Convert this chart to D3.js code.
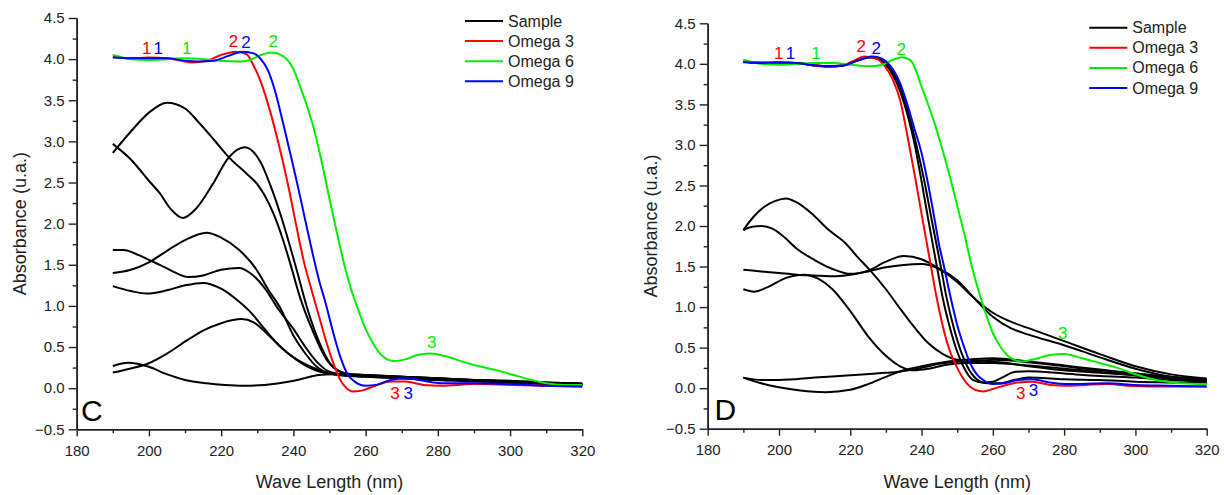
<!DOCTYPE html>
<html>
<head>
<meta charset="utf-8">
<script src="https://cdn.jsdelivr.net/npm/d3@7"></script>
<style>
  body { margin: 0; background: #fff; }
  svg { display: block; font-family: "Liberation Sans", Arial, sans-serif; }
</style>
</head>
<body>
<div id="chart"></div>
<script>
// series names + colours
const seriesNames = ["Sample", "Omega 3", "Omega 6", "Omega 9"];
const seriesColors = ["#000000", "#ff0000", "#00ee00", "#0000ff"];

// axis ticks
const waveTicks = [180, 200, 220, 240, 260, 280, 300, 320];
const waveMinor = [190, 210, 230, 250, 270, 290, 310];
const absTicks = [-0.5, 0, 0.5, 1, 1.5, 2, 2.5, 3, 3.5, 4, 4.5];
const absMinor = [-0.25, 0.25, 0.75, 1.25, 1.75, 2.25, 2.75, 3.25, 3.75, 4.25];

// ---- panel C : [wavelength nm, absorbance] ----
const cSample1 = [[190,2.86],[195,3.12],[200,3.35],[205,3.47],[210,3.40],[214,3.22],[218,3.02],[222.5,2.79],[227,2.61],[230,2.48],[234.4,2.13],[237,1.82],[239.1,1.52],[241.8,1.11],[245.5,0.68],[249,0.36],[252,0.22],[256,0.17],[260,0.16],[270,0.14],[280,0.12],[290,0.10],[300,0.08],[310,0.07],[320,0.05]];
const cSample2 = [[190,2.97],[195,2.78],[200,2.52],[203,2.37],[206,2.18],[209.4,2.07],[213,2.18],[217.8,2.49],[222,2.80],[226.5,2.93],[231,2.74],[233.5,2.48],[236.3,2.13],[240.9,1.44],[243.7,0.99],[246.5,0.63],[250.2,0.30],[253,0.20],[256,0.16],[260,0.15],[270,0.13],[280,0.11],[290,0.09],[300,0.08],[310,0.06],[320,0.05]];
const cSample3 = [[190,1.40],[195,1.44],[200,1.53],[205,1.67],[210,1.80],[216,1.89],[220,1.83],[225,1.68],[229.8,1.44],[233,1.20],[236.3,0.98],[240,0.64],[243,0.44],[246.5,0.26],[250,0.18],[255,0.16],[260,0.15],[270,0.14],[280,0.12],[290,0.10],[300,0.09],[310,0.07],[320,0.06]];
const cSample4 = [[190,1.68],[193,1.68],[197,1.62],[200,1.56],[203,1.50],[207,1.41],[211,1.35],[215,1.37],[220,1.44],[225,1.46],[228,1.40],[232,1.22],[236,0.95],[240,0.72],[243,0.52],[246.5,0.32],[250,0.20],[255,0.16],[260,0.15],[270,0.13],[280,0.11],[290,0.10],[300,0.08],[310,0.06],[320,0.05]];
const cSample5 = [[190,1.24],[195,1.18],[199.4,1.15],[205,1.19],[210,1.25],[215,1.28],[220,1.21],[225,1.05],[228,0.93],[232,0.72],[236,0.52],[240.9,0.35],[246.5,0.23],[250,0.18],[255,0.15],[260,0.14],[270,0.12],[280,0.10],[290,0.09],[300,0.07],[310,0.06],[320,0.04]];
const cSample6 = [[190,0.19],[195,0.24],[199.8,0.30],[205,0.42],[210.5,0.58],[215,0.70],[220,0.79],[225.7,0.84],[229,0.80],[233,0.65],[237,0.48],[241,0.34],[244,0.26],[247.4,0.20],[251,0.17],[255,0.15],[260,0.14],[270,0.12],[280,0.10],[290,0.08],[300,0.07],[310,0.05],[320,0.04]];
const cSample7 = [[190,0.27],[194.3,0.31],[200,0.26],[204.9,0.17],[210,0.10],[216,0.06],[221,0.04],[226,0.03],[232,0.04],[239,0.08],[243,0.12],[247,0.16],[251,0.17],[255,0.17],[260,0.16],[270,0.14],[280,0.12],[290,0.10],[300,0.08],[310,0.06],[320,0.05]];
const cOmega3 = [[190,4.03],[195,4.01],[200,4.02],[205,4.01],[209,3.98],[212,3.96],[216,3.98],[220,4.05],[224,4.09],[227,4.06],[229,3.92],[231,3.72],[233,3.45],[235,3.13],[237,2.77],[239,2.37],[241,1.93],[243,1.52],[245,1.20],[247,0.89],[249,0.58],[251,0.31],[253,0.10],[254.5,0.01],[256.5,-0.04],[259,-0.03],[262,0.02],[267,0.08],[271,0.08],[276,0.04],[281,0.03],[290,0.05],[300,0.04],[310,0.03],[320,0.02]];
const cOmega6 = [[190,4.05],[195,4.00],[200,3.99],[205,4.00],[210,4.01],[215,4.00],[220,3.98],[225,3.97],[228,3.99],[231,4.05],[234,4.08],[237,4.04],[240,3.88],[242,3.65],[244,3.40],[246,3.10],[248,2.72],[250,2.30],[252,1.90],[254,1.52],[256,1.20],[258,0.95],[260,0.72],[262,0.55],[264,0.42],[266,0.35],[268,0.33],[271,0.35],[275,0.41],[278,0.42],[282,0.39],[287,0.32],[292,0.26],[297,0.21],[301,0.16],[306,0.10],[310,0.06],[315,0.04],[320,0.04]];
const cOmega9 = [[190,4.02],[195,4.01],[200,4.01],[205,4.01],[210,3.98],[214,3.97],[218,3.98],[222,4.04],[226,4.09],[229,4.07],[231,4.00],[233,3.86],[235,3.60],[237,3.25],[239,2.88],[241,2.50],[243,2.10],[245,1.70],[247,1.33],[249,1.02],[251,0.68],[253,0.38],[255,0.17],[257,0.08],[260,0.03],[263,0.04],[267,0.10],[271,0.12],[276,0.09],[281,0.06],[290,0.06],[300,0.05],[310,0.03],[320,0.02]];
// peak numbers: [text, series index, nm, absorbance]
const cPeakLabels = [["1",1,199.4,4.13],["1",3,202.6,4.13],["1",2,210.5,4.13],["2",1,223.4,4.21],["2",3,226.9,4.20],["2",2,234.4,4.21],["3",1,268.1,-0.06],["3",3,271.8,-0.06],["3",2,278.3,0.55]];

// ---- panel D ----
const dSample1 = [[190,4.03],[195,4.01],[200,4.01],[205,4.01],[210,3.98],[214,3.97],[218,3.98],[222,4.04],[225,4.08],[227,4.07],[229,4.03],[232,3.86],[234,3.66],[236,3.38],[238,3.02],[240,2.55],[242,2.05],[244.3,1.50],[246,1.10],[248,0.74],[250,0.45],[251.7,0.27],[254.5,0.10],[257.3,0.07],[260,0.08],[263,0.14],[266,0.20],[270,0.21],[280,0.18],[290,0.15],[300,0.13],[310,0.10],[320,0.08]];
const dSample2 = [[190,4.03],[195,4.01],[200,4.01],[205,4.01],[210,3.98],[214,3.97],[218,3.98],[222,4.04],[226,4.08],[228,4.07],[230,4.03],[232,3.90],[234,3.72],[236,3.45],[238,3.10],[240.7,2.57],[243,2.04],[245.4,1.50],[247,1.12],[249,0.75],[251,0.46],[252.8,0.27],[255.5,0.11],[258.5,0.06],[262,0.06],[266,0.10],[270,0.13],[280,0.11],[290,0.10],[300,0.08],[310,0.07],[320,0.06]];
const dSample3 = [[190,1.95],[193,2.12],[196,2.24],[199,2.31],[202,2.34],[205,2.29],[209,2.16],[214,1.95],[218.6,1.79],[222,1.62],[225,1.48],[230,1.22],[234,0.98],[238,0.75],[242,0.55],[246,0.42],[250,0.35],[255,0.33],[260,0.35],[265,0.34],[270,0.32],[280,0.27],[290,0.22],[300,0.18],[310,0.13],[320,0.10]];
const dSample4 = [[190,1.95],[192.5,1.99],[195,2.00],[198,1.97],[201,1.88],[205,1.72],[210,1.58],[215,1.47],[220,1.41],[225,1.45],[230,1.56],[235,1.63],[240,1.59],[245,1.47],[250,1.31],[255,1.10],[260,0.93],[265,0.82],[270,0.74],[280,0.58],[290,0.42],[300,0.27],[310,0.17],[320,0.12]];
const dSample5 = [[190,1.46],[195,1.44],[200,1.42],[205,1.40],[210,1.39],[215,1.38],[220,1.40],[225,1.44],[230,1.49],[235,1.52],[240,1.53],[245,1.47],[250,1.33],[255,1.10],[260,0.88],[265,0.74],[270,0.66],[280,0.53],[290,0.38],[300,0.24],[310,0.14],[320,0.10]];
const dSample6 = [[190,1.22],[193,1.19],[197,1.25],[202,1.36],[207,1.40],[211,1.35],[215,1.22],[220,0.95],[225,0.64],[230,0.40],[234,0.27],[238,0.22],[242,0.24],[247,0.29],[252,0.31],[260,0.31],[270,0.28],[280,0.24],[290,0.20],[300,0.16],[310,0.12],[320,0.09]];
const dSample7 = [[190,0.13],[195,0.06],[200,0.01],[206,-0.03],[213,-0.05],[220,-0.02],[225,0.05],[230,0.14],[235,0.22],[240,0.27],[245,0.31],[250,0.34],[255,0.36],[260,0.37],[270,0.33],[280,0.28],[290,0.23],[300,0.18],[310,0.14],[320,0.11]];
const dSample8 = [[190,0.13],[195,0.10],[200,0.10],[210,0.13],[220,0.16],[230,0.19],[235,0.21],[240,0.25],[245,0.30],[250,0.33],[255,0.34],[260,0.33],[270,0.27],[280,0.22],[290,0.19],[300,0.16],[310,0.12],[320,0.09]];
const dOmega3 = [[190,4.03],[195,4.02],[200,4.02],[205,4.01],[210,3.98],[214,3.96],[218,3.98],[221,4.04],[224,4.09],[227,4.07],[229.5,3.98],[232,3.80],[234,3.55],[236,3.12],[238.2,2.60],[240,2.15],[242.4,1.56],[244,1.17],[246.1,0.74],[248,0.45],[250,0.25],[252.7,0.06],[255,-0.02],[257.3,-0.04],[260,-0.01],[263,0.03],[267,0.07],[271,0.08],[276,0.04],[281,0.03],[286,0.04],[292,0.05],[298,0.03],[305,0.02],[320,0.02]];
const dOmega6 = [[190,4.05],[195,4.00],[200,3.99],[205,4.00],[210,4.01],[215,4.01],[220,3.99],[225,3.97],[229,3.99],[232,4.05],[234.5,4.08],[237,4.04],[240,3.72],[242,3.48],[244,3.22],[246,2.92],[248,2.60],[250,2.25],[252,1.90],[254,1.52],[256,1.20],[258,0.92],[260,0.68],[262,0.52],[264,0.41],[266,0.35],[268,0.33],[272,0.36],[276,0.41],[280,0.42],[285,0.37],[290,0.31],[295,0.25],[299.4,0.18],[304,0.12],[309,0.08],[313,0.06],[320,0.05]];
const dOmega9 = [[190,4.02],[195,4.01],[200,4.02],[205,4.01],[210,3.98],[214,3.97],[218,3.98],[222,4.04],[226,4.09],[228,4.08],[230,4.03],[232,3.93],[234,3.76],[236,3.50],[238,3.20],[240,2.90],[241.6,2.57],[243.5,2.12],[245,1.75],[246.1,1.54],[248,1.15],[250,0.78],[252,0.50],[253.6,0.31],[255.5,0.17],[257.3,0.10],[260,0.05],[263,0.06],[267,0.10],[271,0.11],[276,0.07],[281,0.05],[292,0.06],[300,0.04],[310,0.03],[320,0.02]];
const dPeakLabels = [["1",1,199.9,4.13],["1",3,203.2,4.13],["1",2,210.4,4.13],["2",1,223.1,4.21],["2",3,227.3,4.19],["2",2,234.3,4.18],["3",1,267.8,-0.06],["3",3,271.4,-0.03],["3",2,279.6,0.67]];

const W = 1224, H = 495;
const svg = d3.select("#chart").append("svg").attr("width", W).attr("height", H);
svg.append("rect").attr("width", W).attr("height", H).attr("fill", "#fff");

const panels = [
  { letter: "C", left: 76.7, right: 582.3, top: 18, bottom: 429.3,
    samples: [cSample1, cSample2, cSample3, cSample4, cSample5, cSample6, cSample7],
    omegas: [cOmega3, cOmega6, cOmega9], peaks: cPeakLabels,
    legendX: 465, legendY: 21, yTitleX: 26, letterX: 81 },
  { letter: "D", left: 707.7, right: 1206.7, top: 23.3, bottom: 428.7,
    samples: [dSample1, dSample2, dSample3, dSample4, dSample5, dSample6, dSample7, dSample8],
    omegas: [dOmega3, dOmega6, dOmega9], peaks: dPeakLabels,
    legendX: 1089.3, legendY: 27.7, yTitleX: 657, letterX: 714.5 }
];

panels.forEach((p) => {
  const x = d3.scaleLinear().domain([180, 320]).range([p.left, p.right]);
  const y = d3.scaleLinear().domain([-0.5, 4.5]).range([p.bottom, p.top]);
  const g = svg.append("g");

  const line = d3.line()
    .x((d) => x(d[0]))
    .y((d) => y(d[1]))
    .curve(d3.curveMonotoneX);

  // samples first, omegas on top
  g.selectAll("path.sample")
    .data(p.samples)
    .enter()
    .append("path")
    .attr("class", "sample")
    .attr("d", line)
    .attr("fill", "none")
    .attr("stroke", seriesColors[0])
    .attr("stroke-width", 2);

  g.selectAll("path.omega")
    .data(p.omegas)
    .enter()
    .append("path")
    .attr("class", "omega")
    .attr("d", line)
    .attr("fill", "none")
    .attr("stroke", (d, i) => seriesColors[i + 1])
    .attr("stroke-width", 2);

  // axes
  const axisColor = "#222";
  const yAxis = g.append("g")
    .attr("transform", `translate(${p.left},0)`)
    .call(d3.axisLeft(y).tickValues(absTicks).tickSize(8).tickSizeOuter(0)
      .tickPadding(4).tickFormat(d3.format(".1f")));
  const yMinor = g.append("g")
    .attr("transform", `translate(${p.left},0)`)
    .call(d3.axisLeft(y).tickValues(absMinor).tickSize(4).tickSizeOuter(0).tickFormat(""));
  const xAxis = g.append("g")
    .attr("transform", `translate(0,${p.bottom})`)
    .call(d3.axisBottom(x).tickValues(waveTicks).tickSize(7).tickSizeOuter(0).tickPadding(9));
  const xMinor = g.append("g")
    .attr("transform", `translate(0,${p.bottom})`)
    .call(d3.axisBottom(x).tickValues(waveMinor).tickSize(4).tickSizeOuter(0).tickFormat(""));

  [yAxis, yMinor, xAxis, xMinor].forEach((a) => {
    a.select(".domain").attr("stroke", axisColor).attr("stroke-width", 1.6);
    a.selectAll(".tick line").attr("stroke", axisColor).attr("stroke-width", 1.4);
    a.selectAll(".tick text")
      .attr("fill", axisColor)
      .style("font-size", "15px")
      .style("font-family", "'Liberation Sans', Arial, sans-serif");
  });

  // axis titles
  g.append("text")
    .attr("transform", `translate(${p.yTitleX},${(p.top + p.bottom) / 2}) rotate(-90)`)
    .attr("text-anchor", "middle")
    .attr("fill", axisColor)
    .style("font-size", "18px")
    .text("Absorbance (u.a.)");
  g.append("text")
    .attr("x", (p.left + p.right) / 2)
    .attr("y", 488)
    .attr("text-anchor", "middle")
    .attr("fill", axisColor)
    .style("font-size", "18px")
    .text("Wave Length (nm)");

  // panel letter
  g.append("text")
    .attr("x", p.letterX)
    .attr("y", p.bottom - 8.5)
    .attr("fill", "#000")
    .style("font-size", "30px")
    .text(p.letter);

  // peak numbers
  g.selectAll("text.peak")
    .data(p.peaks)
    .enter()
    .append("text")
    .attr("class", "peak")
    .attr("x", (d) => x(d[2]))
    .attr("y", (d) => y(d[3]))
    .attr("text-anchor", "middle")
    .attr("dominant-baseline", "central")
    .attr("fill", (d) => seriesColors[d[1]])
    .style("font-size", "17px")
    .text((d) => d[0]);

  // legend
  const legend = g.append("g").attr("transform", `translate(${p.legendX},${p.legendY})`);
  const items = legend.selectAll("g")
    .data(seriesNames)
    .enter()
    .append("g")
    .attr("transform", (d, i) => `translate(0,${i * 20.1})`);
  items.append("line")
    .attr("x1", 0).attr("x2", 38)
    .attr("stroke", (d, i) => seriesColors[i])
    .attr("stroke-width", 2);
  items.append("text")
    .attr("x", 43)
    .attr("dominant-baseline", "central")
    .attr("fill", axisColor)
    .style("font-size", "16px")
    .text((d) => d);
});
</script>
</body>
</html>
